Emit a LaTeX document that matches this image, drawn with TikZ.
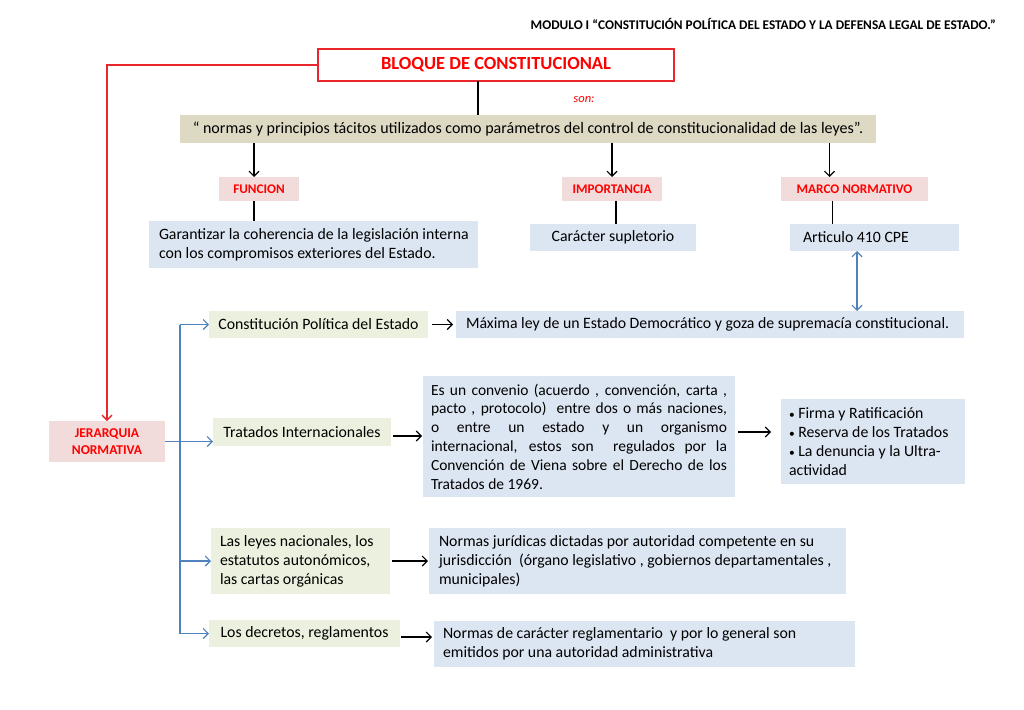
\documentclass[tikz,border=0pt]{standalone}
\usepackage{fontspec}
\setmainfont{Carlito}
\usetikzlibrary{arrows.meta,calc}
\definecolor{tanf}{HTML}{DDD9C3}
\definecolor{pinkf}{HTML}{F2DCDB}
\definecolor{bluef}{HTML}{DCE6F2}
\definecolor{greenf}{HTML}{EBF1DE}
\definecolor{redt}{HTML}{FF0000}
\definecolor{redl}{HTML}{E8262B}
\definecolor{bluel}{HTML}{4F81BD}
\newcommand{\smbul}{{\fontsize{11.5}{11}\selectfont•}\ }
\tikzset{
  bx/.style={inner sep=0pt, outer sep=0pt, draw=none},
  tanbox/.style={bx, fill=tanf},
  pinkbox/.style={bx, fill=pinkf, text=redt, font=\fontsize{13.2}{16}\selectfont\bfseries},
  bluebox/.style={bx, fill=bluef, font=\fontsize{15.8}{19}\selectfont},
  greenbox/.style={bx, fill=greenf, font=\fontsize{15.8}{19}\selectfont},
  blk/.style={draw=black, line width=1.1pt},
  blkarrow/.style={blk, -{Straight Barb[length=5pt,width=10pt,line width=1.1pt]}},
  bluearrow/.style={draw=bluel, line width=1.1pt, -{Straight Barb[length=5pt,width=10pt,line width=1.1pt]}},
  redarrow/.style={draw=redl, line width=1.4pt, -{Straight Barb[length=5pt,width=10pt,line width=1.4pt]}},
}
\begin{document}
\begin{tikzpicture}[x=1pt,y=-1pt]
\useasboundingbox (0,0) rectangle (1024,709);
\fill[white] (0,0) rectangle (1024,709);

% header
\node[anchor=base east, inner sep=0pt, font=\fontsize{13.3}{15}\selectfont\bfseries] (hdr) at (996,30)
  {MODULO I “CONSTITUCIÓN POLÍTICA DEL ESTADO Y LA DEFENSA LEGAL DE ESTADO.”};

% top
\node[bx, draw=redl, line width=1.2pt, fill=white, minimum width=356pt, minimum height=32pt,
  text=redt, font=\fontsize{18.5}{21}\selectfont\bfseries] (bloque) at (496,65) {BLOQUE DE CONSTITUCIONAL};
\node[inner sep=0pt, text=redt, font=\fontsize{12.5}{14}\selectfont\itshape] (son) at (584,100) {son:};
\node[tanbox, minimum width=696pt, minimum height=28pt, font=\fontsize{16}{19}\selectfont] (quote) at (528,129)
  {“ normas y principios tácitos utilizados como parámetros del control de constitucionalidad de las leyes”.};

% labels
\node[pinkbox, minimum width=80pt, minimum height=24pt] (func) at (259,189) {FUNCION};
\node[pinkbox, minimum width=100pt, minimum height=24pt] (imp) at (612,189) {IMPORTANCIA};
\node[pinkbox, minimum width=147pt, minimum height=24pt] (marco) at (854.5,189) {MARCO NORMATIVO};

\node[bluebox, minimum width=329pt, minimum height=47pt, text width=309pt, align=flush left] (gar) at (313.5,244.5)
  {\mbox{Garantizar la coherencia de la legislación interna}\\\mbox{con los compromisos exteriores del Estado.}};
\node[bluebox, minimum width=166pt, minimum height=27pt] (car) at (613,237.5) {Carácter supletorio};
\node[bluebox, minimum width=169pt, minimum height=27pt, text width=143pt, align=flush left] (art) at (874.5,237.5) {Articulo 410 CPE};

% jerarquia
\node[pinkbox, minimum width=116pt, minimum height=41pt, align=center, font=\fontsize{13.5}{17}\selectfont\bfseries] (jer) at (107,441.5) {JERARQUIA\\NORMATIVA};

\node[greenbox, minimum width=219pt, minimum height=27pt] (cons) at (318.5,324.5) {Constitución Política del Estado};
\node[bluebox, minimum width=508pt, minimum height=27pt, text width=488pt, align=flush left] (max) at (710,324.5)
  {\mbox{Máxima ley de un Estado Democrático y goza de supremacía constitucional.}};

\node[greenbox, minimum width=178pt, minimum height=28pt] (trat) at (302,432) {Tratados Internacionales};
\node[bluebox, minimum width=312pt, minimum height=121pt, text width=296pt, align=justify,
  font=\fontsize{15.5}{18.8}\selectfont] (esun) at (579,436.5)
  {Es un convenio (acuerdo , convención, carta ,\linebreak
   pacto , protocolo)\ \ entre dos o más naciones,\linebreak
   o entre un estado y un organismo\linebreak
   internacional, estos son\ \ regulados por la\linebreak
   Convención de Viena sobre el Derecho de los\linebreak
   Tratados de 1969.};
\node[bluebox, minimum width=184pt, minimum height=85pt, text width=168pt, align=flush left] (firma) at (873,441.5)
  {\smbul Firma y Ratificación\\\smbul Reserva de los Tratados\\\smbul La denuncia y la Ultra-\\actividad};

\node[greenbox, minimum width=179pt, minimum height=66pt, text width=161pt, align=flush left] (leyes) at (300.5,561)
  {Las leyes nacionales, los\\estatutos autonómicos,\\las cartas orgánicas};
\node[bluebox, minimum width=417pt, minimum height=66pt, text width=397pt, align=flush left] (normj) at (637.5,561)
  {\mbox{Normas jurídicas dictadas por autoridad competente en su}\\\mbox{jurisdicción\ \ (órgano legislativo , gobiernos departamentales ,}\\municipales)};

\node[greenbox, minimum width=191pt, minimum height=27pt] (dec) at (304.5,633.5) {Los decretos, reglamentos};
\node[bluebox, minimum width=421pt, minimum height=46pt, text width=403pt, align=flush left] (normd) at (644.5,644)
  {Normas de carácter reglamentario\ \ y por lo general son\\emitidos por una autoridad administrativa};

% connectors top
\draw[redarrow] (bloque.west) -| (jer.north);
\draw[blk] ([xshift=-18pt]bloque.south) -- ([xshift=-18pt]bloque.south |- quote.north);
\draw[blkarrow] ([xshift=-5pt]func.north |- quote.south) -- ([xshift=-5pt]func.north);
\draw[blkarrow] (imp.north |- quote.south) -- (imp.north);
\draw[blkarrow] ([xshift=-25pt]marco.north |- quote.south) -- ([xshift=-25pt]marco.north);
\draw[blk] ([xshift=-5pt]func.south) -- ([xshift=-5pt]func.south |- gar.north);
\draw[blk] ([xshift=4pt]imp.south) -- ([xshift=4pt]imp.south |- car.north);
\draw[blk] ([xshift=-22pt]marco.south) -- ([xshift=-22pt]marco.south |- art.north);
\draw[draw=bluel, line width=1.1pt, {Straight Barb[length=5pt,width=10pt,line width=1.1pt]}-{Straight Barb[length=5pt,width=10pt,line width=1.1pt]}]
  ([xshift=-17.5pt]art.south) -- ([xshift=-17.5pt]art.south |- max.north);

% blue tree
\coordinate (tk) at (180,0);
\draw[draw=bluel, line width=1.1pt] (tk |- cons.west) -- (tk |- dec.west);
\draw[bluearrow] (tk |- cons.west) -- (cons.west);
\draw[bluearrow] (jer.east) -- (jer.east -| trat.west);
\draw[bluearrow] (tk |- leyes.west) -- (leyes.west);
\draw[bluearrow] (tk |- dec.west) -- (dec.west);

% black horizontal arrows
\draw[blkarrow, shorten <=4pt, shorten >=3pt] (cons.east) -- (max.west);
\draw[blkarrow, shorten <=2pt, shorten >=1pt] ([yshift=-4pt]trat.east) -- ([yshift=-4pt]trat.east -| esun.west);
\draw[blkarrow, shorten <=3pt, shorten >=10pt] ([yshift=9.5pt]firma.west -| esun.east) -- ([yshift=9.5pt]firma.west);
\draw[blkarrow, shorten <=2pt, shorten >=1pt] (leyes.east) -- (normj.west);
\draw[blkarrow, shorten <=1pt, shorten >=2pt] ([yshift=-3.5pt]dec.east) -- ([yshift=-3.5pt]dec.east -| normd.west);
\end{tikzpicture}
\end{document}
